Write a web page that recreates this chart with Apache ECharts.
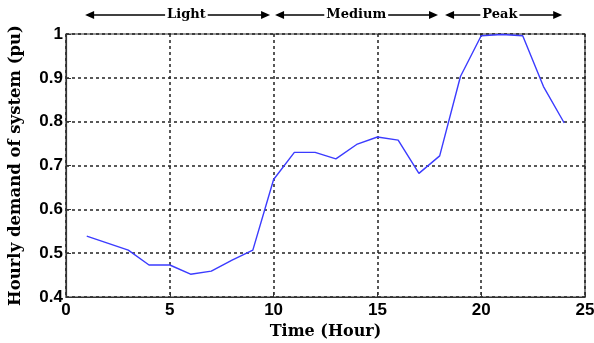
<!DOCTYPE html>
<html>
<head>
<meta charset="utf-8">
<script src="https://cdn.jsdelivr.net/npm/echarts@6/dist/echarts.min.js"></script>
<style>html,body{margin:0;padding:0;background:#fff;}#c{width:594px;height:343px;}</style>
</head>
<body>
<div id="c"></div>
<script>
var hours = [1,2,3,4,5,6,7,8,9,10,11,12,13,14,15,16,17,18,19,20,21,22,23,24];
var demand = [0.539,0.523,0.507,0.473,0.473,0.452,0.459,0.484,0.507,0.668,0.730,0.730,0.715,0.748,0.765,0.758,0.682,0.722,0.903,0.996,0.999,0.996,0.880,0.797];
var periodLabels = ['Light','Medium','Peak'];
var periodStart = [0.92, 10.07, 18.26];
var periodEnd = [9.83, 17.92, 23.9];
var periodLabelAt = [5.8, 13.98, 20.9];

var chart = echarts.init(document.getElementById('c'));
var tickFont = {fontFamily:'"Liberation Sans Narrow", "Liberation Sans"',fontWeight:'bold',fontSize:17,color:'#000'};
chart.setOption({
  animation:false,
  grid:{left:66,right:9,top:34,bottom:46,outerBoundsMode:'none',containLabel:false,
        show:true,borderColor:'#333',borderWidth:1.2,backgroundColor:'transparent'},
  xAxis:{
    type:'value',min:0,max:25,interval:5,
    name:'Time (Hour)',nameLocation:'middle',nameGap:27,
    nameTextStyle:{fontFamily:'DejaVu Serif', fontWeight:'bold', fontSize:16, color:'#000'},
    axisLine:{show:true,lineStyle:{color:'#333',width:1.2}},
    axisTick:{show:true,inside:true,length:5,lineStyle:{color:'#333'}},
    axisLabel:Object.assign({margin:5},tickFont),
    splitLine:{show:true,lineStyle:{color:'#222',type:[3,3],width:1.5}}
  },
  yAxis:{
    type:'value',min:0.4,max:1,interval:0.1,
    name:'Hourly demand of system (pu)',nameLocation:'middle',nameGap:42,
    nameTextStyle:{fontFamily:'DejaVu Serif', fontWeight:'bold', fontSize:16.5, color:'#000'},
    axisLine:{show:true,lineStyle:{color:'#333',width:1.2}},
    axisTick:{show:true,inside:true,length:5,lineStyle:{color:'#333'}},
    axisLabel:Object.assign({margin:3,formatter:function(v){return String(Math.round(v*10)/10);}},tickFont),
    splitLine:{show:true,lineStyle:{color:'#222',type:[3,3],width:1.5}}
  },
  series:[{
    type:'line',
    data:hours.map(function(h,i){return [h,demand[i]];}),
    showSymbol:false,
    clip:false,
    lineStyle:{color:'#3b3bff',width:1.4},
    itemStyle:{color:'#3b3bff'}
  }]
});

var y = 15;
var graphics = [];
periodLabels.forEach(function(lbl,i){
  var x0 = chart.convertToPixel({gridIndex:0},[periodStart[i],0.5])[0];
  var x1 = chart.convertToPixel({gridIndex:0},[periodEnd[i],0.5])[0];
  var xm = chart.convertToPixel({gridIndex:0},[periodLabelAt[i],0.5])[0];
  var L = 9, H = 4;
  graphics.push({type:'line',shape:{x1:x0+L-1,y1:y,x2:x1-L+1,y2:y},style:{stroke:'#000',lineWidth:1.5},z:10});
  graphics.push({type:'polygon',shape:{points:[[x0,y],[x0+L,y-H],[x0+L,y+H]]},style:{fill:'#000'},z:10});
  graphics.push({type:'polygon',shape:{points:[[x1,y],[x1-L,y-H],[x1-L,y+H]]},style:{fill:'#000'},z:10});
  graphics.push({type:'text',x:xm,y:y,z:11,style:{text:lbl,fill:'#000',font:'bold 13px "DejaVu Serif"',
    align:'center',verticalAlign:'middle',backgroundColor:'#fff',padding:[0,2]}});
});
chart.setOption({graphic:graphics});
</script>
</body>
</html>
